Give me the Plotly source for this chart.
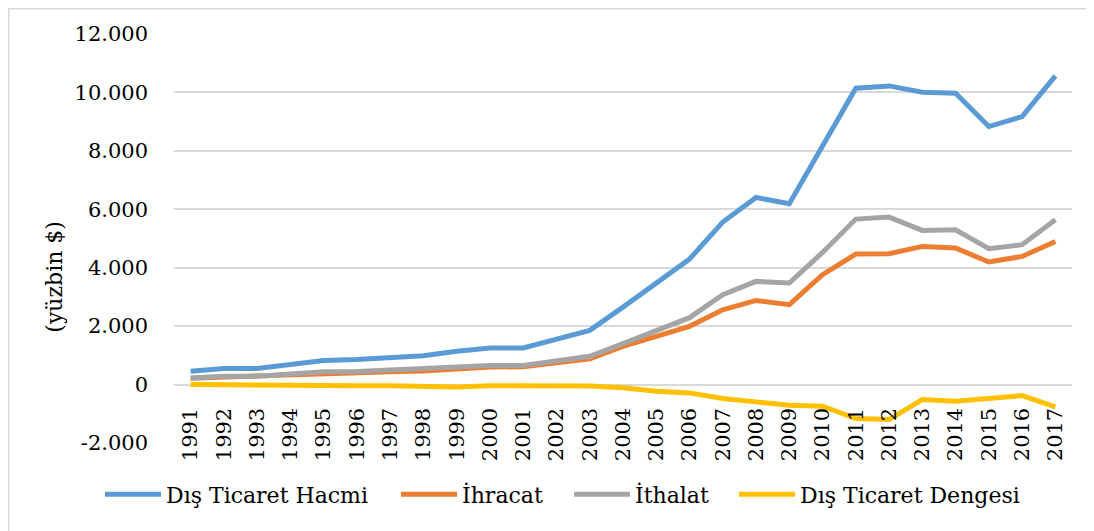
import plotly.graph_objects as go

years = [str(y) for y in range(1991, 2018)]
hacmi = [455, 547, 550, 680, 820, 855, 920, 990, 1140, 1255, 1255, 1540, 1855, 2650, 3450, 4297,
         5563, 6405, 6188, 8205, 10143, 10223, 10006, 9973, 8832, 9174, 10565]
ihracat = [220, 260, 270, 330, 390, 410, 440, 465, 530, 600, 610, 740, 880, 1310, 1650, 1993,
           2560, 2880, 2735, 3761, 4468, 4479, 4729, 4673, 4195, 4387, 4900]
ithalat = [228, 285, 285, 340, 435, 445, 490, 525, 590, 650, 650, 800, 970, 1400, 1850, 2290,
           3077, 3532, 3477, 4523, 5665, 5733, 5276, 5300, 4650, 4787, 5641]
denge = [0, -15, -10, -15, -40, -40, -40, -55, -85, -40, -40, -50, -50, -110, -228, -285,
         -478, -592, -706, -740, -1162, -1197, -513, -570, -456, -376, -763]

names = ["Dış Ticaret Hacmi", "İhracat", "İthalat", "Dış Ticaret Dengesi"]
series = [hacmi, ihracat, ithalat, denge]
colors = ["#5B9BD5", "#ED7D31", "#A5A5A5", "#FFC000"]

y_ticks = [-2000, 0, 2000, 4000, 6000, 8000, 10000, 12000]
y_tick_labels = ["-2.000", "0", "2.000", "4.000", "6.000", "8.000", "10.000", "12.000"]

FONT = "DejaVu Serif"
TICK_SIZE = 21
LEG_SIZE = 22

# page-pixel layout (the page body adds an 8px offset)
PL, PR, PT, PB = 174, 1072, 34, 443.5
W, H = 1094 - 8, 531 - 8


def px(x):
    return (x - PL) / (PR - PL)


def py(y):
    return (PB - y) / (PB - PT)


legend_keys = ["legend", "legend2", "legend3", "legend4"]
legend_left = [100, 396, 569, 734]

fig = go.Figure()
for n, s, c, lk in zip(names, series, colors, legend_keys):
    fig.add_trace(go.Scatter(x=years, y=s, name=n, mode="lines",
                             line=dict(color=c, width=5), legend=lk))

layout_legends = {}
for lk, lx in zip(legend_keys, legend_left):
    layout_legends[lk] = dict(orientation="h", x=px(lx), y=py(495),
                              xanchor="left", yanchor="middle", itemwidth=56,
                              font=dict(family=FONT, size=LEG_SIZE, color="black"),
                              bgcolor="rgba(0,0,0,0)")

fig.update_layout(
    width=W, height=H,
    margin=dict(l=PL - 8, r=W - (PR - 8), t=PT - 8, b=H - (PB - 8), autoexpand=False),
    paper_bgcolor="white", plot_bgcolor="white",
    font=dict(family=FONT, size=TICK_SIZE, color="black"),
    showlegend=True,
    xaxis=dict(type="category", tickangle=-90, showgrid=False, zeroline=False,
               showline=False, ticks="", anchor="free", position=2000 / 14000,
               ticklabelstandoff=18, tickfont=dict(family=FONT, size=TICK_SIZE),
               range=[-0.5, 26.5], automargin=False),
    yaxis=dict(range=[-2000, 12000], tickvals=y_ticks, ticktext=y_tick_labels,
               showgrid=True, gridcolor="#D9D9D9", gridwidth=1.5, zeroline=False,
               showline=False, ticks="", ticklabelstandoff=25,
               tickfont=dict(family=FONT, size=TICK_SIZE), automargin=False),
    shapes=[dict(type="rect", xref="paper", yref="paper",
                 x0=px(8.8), x1=px(1200), y0=py(700), y1=py(8.8),
                 line=dict(color="#D9D9D9", width=1.5), layer="below")],
    annotations=[dict(text="(yüzbin $)", xref="paper", yref="paper",
                      x=px(55), y=py(277),
                      textangle=-90, showarrow=False,
                      font=dict(family=FONT, size=LEG_SIZE),
                      xanchor="center", yanchor="middle")],
    **layout_legends,
)

fig.write_html("out.html")
